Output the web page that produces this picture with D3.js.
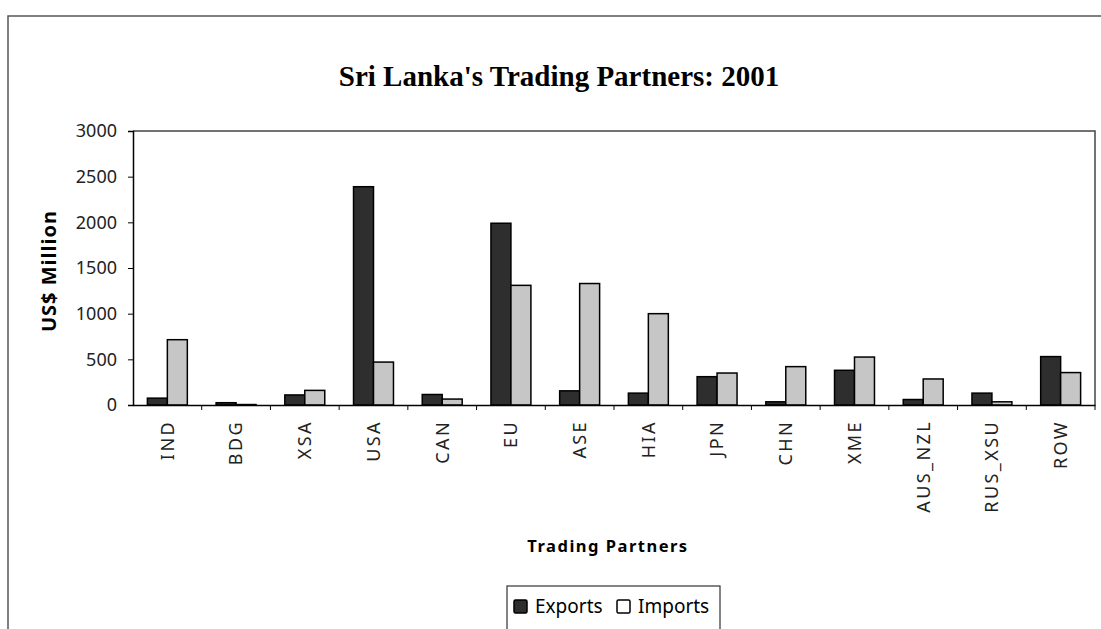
<!DOCTYPE html>
<html lang="en">
<head>
    <meta charset="UTF-8">
    <title>Sri Lanka's Trading Partners: 2001</title>
    <script src="https://d3js.org/d3.v7.min.js"></script>
    <style>
        body { margin: 0; background: #fff; }
    </style>
</head>
<body>
    <div id="my_dataviz"></div>

    <script>
        // chart data (US$ million)
        var partners = ["IND", "BDG", "XSA", "USA", "CAN", "EU", "ASE", "HIA", "JPN", "CHN", "XME", "AUS_NZL", "RUS_XSU", "ROW"];
        var exportsVals = [75, 25, 110, 2390, 115, 1990, 155, 130, 310, 35, 380, 60, 130, 530];
        var importsVals = [715, 5, 160, 470, 65, 1310, 1330, 1000, 350, 420, 525, 285, 35, 355];
        var seriesNames = ["Exports", "Imports"];
        var yTicks = [0, 500, 1000, 1500, 2000, 2500, 3000];

        var W = 1101, H = 629;
        var margin = {top: 131, right: 6, bottom: 224, left: 133};
        var width = W - margin.left - margin.right;
        var height = H - margin.top - margin.bottom;

        var svg = d3.select("#my_dataviz")
            .append("svg")
            .attr("width", W)
            .attr("height", H);

        // outer chart frame (runs off the page right and bottom)
        svg.append("path")
            .attr("d", "M8," + (H + 2) + "V16H" + (W + 2))
            .attr("fill", "none")
            .attr("stroke", "#555")
            .attr("stroke-width", 1.5);

        svg.append("text")
            .attr("x", 559)
            .attr("y", 86)
            .attr("text-anchor", "middle")
            .style("font-family", "'Liberation Serif', serif")
            .style("font-weight", "bold")
            .style("font-size", "29px")
            .text("Sri Lanka's Trading Partners: 2001");

        var g = svg.append("g")
            .attr("transform", "translate(" + margin.left + "," + margin.top + ")");

        var x = d3.scaleBand()
            .domain(partners)
            .range([0, width])
            .padding(0);

        var x1 = d3.scaleBand()
            .domain(seriesNames)
            .range([0, x.bandwidth()])
            .paddingInner(0)
            .paddingOuter(0.72);

        var y = d3.scaleLinear()
            .domain([0, 3000])
            .range([height, 0]);

        // plot area top and right border
        g.append("path")
            .attr("d", "M0,0H" + width + "V" + height)
            .attr("fill", "none")
            .attr("stroke", "#444")
            .attr("stroke-width", 1.5);

        var rows = partners.map(function(p, i) {
            return {name: p, values: [exportsVals[i], importsVals[i]]};
        });
        var fills = {Exports: "#2e2e2e", Imports: "#c6c6c6"};

        var groups = g.selectAll("g.cat")
            .data(rows)
            .enter()
            .append("g")
            .attr("class", "cat")
            .attr("transform", function(d) { return "translate(" + x(d.name) + ",0)"; });

        groups.selectAll("rect")
            .data(function(d) {
                return seriesNames.map(function(s, j) { return {key: s, value: d.values[j]}; });
            })
            .enter()
            .append("rect")
            .attr("x", function(d) { return x1(d.key); })
            .attr("y", function(d) { return y(d.value); })
            .attr("width", x1.bandwidth())
            .attr("height", function(d) { return height - y(d.value); })
            .attr("fill", function(d) { return fills[d.key]; })
            .attr("stroke", "#000")
            .attr("stroke-width", 1.5);

        // y axis
        var yAxis = g.append("g")
            .call(d3.axisLeft(y).tickValues(yTicks).tickFormat(d3.format("d")).tickSize(5).tickPadding(11));
        yAxis.select(".domain").attr("stroke", "#000").attr("stroke-width", 1.5);
        yAxis.selectAll("text")
            .style("font-family", "'Noto Sans', sans-serif")
            .style("font-size", "18px")
            .attr("fill", "#222");

        // x axis: ticks sit on the category boundaries
        var xAxis = g.append("g")
            .attr("transform", "translate(0," + height + ")")
            .call(d3.axisBottom(x).tickSize(0).tickPadding(0));
        xAxis.select(".domain").attr("stroke", "#000").attr("stroke-width", 1.5);
        xAxis.selectAll("text")
            .attr("transform", "rotate(-90)")
            .attr("x", -15)
            .attr("y", 0)
            .attr("dy", "0.35em")
            .attr("text-anchor", "end")
            .style("font-family", "'Noto Sans', sans-serif")
            .style("font-size", "18px")
            .style("letter-spacing", "2.4px")
            .attr("fill", "#222");
        xAxis.selectAll(".bound")
            .data(partners.slice(1).concat(["end"]))
            .enter()
            .append("line")
            .attr("class", "bound")
            .attr("x1", function(d, i) { return x.step() * (i + 1); })
            .attr("x2", function(d, i) { return x.step() * (i + 1); })
            .attr("y1", 0)
            .attr("y2", 5)
            .attr("stroke", "#000");

        // axis titles
        svg.append("text")
            .attr("transform", "translate(56,271)rotate(-90)")
            .attr("text-anchor", "middle")
            .style("font-family", "'Noto Sans', sans-serif")
            .style("font-weight", "bold")
            .style("font-size", "20px")
            .style("letter-spacing", "1px")
            .text("US$ Million");

        svg.append("text")
            .attr("x", 608)
            .attr("y", 552)
            .attr("text-anchor", "middle")
            .style("font-family", "'Noto Sans', sans-serif")
            .style("font-weight", "bold")
            .style("font-size", "16.5px")
            .style("letter-spacing", "1.5px")
            .text("Trading Partners");

        // legend
        var legend = svg.append("g").attr("transform", "translate(507,586)");
        legend.append("rect")
            .attr("width", 213)
            .attr("height", 50)
            .attr("fill", "#fff")
            .attr("stroke", "#333")
            .attr("stroke-width", 1.2);
        var items = legend.selectAll("g.item")
            .data(seriesNames)
            .enter()
            .append("g")
            .attr("class", "item")
            .attr("transform", function(d, i) { return "translate(" + (7 + i * 103) + ",14)"; });
        items.append("rect")
            .attr("width", 13)
            .attr("height", 13)
            .attr("fill", function(d) { return d === "Exports" ? fills.Exports : "#fff"; })
            .attr("stroke", "#000")
            .attr("stroke-width", 1.5)
            .attr("rx", 1.5);
        items.append("text")
            .attr("x", 21)
            .attr("y", 13)
            .style("font-family", "'Noto Sans', sans-serif")
            .style("font-size", "19px")
            .text(function(d) { return d; });
    </script>
</body>
</html>
